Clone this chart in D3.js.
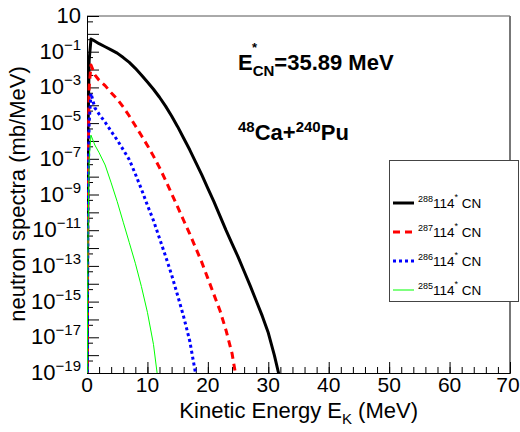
<!DOCTYPE html>
<html><head><meta charset="utf-8">
<script src="https://cdn.jsdelivr.net/npm/d3@7"></script>
<style>
body{margin:0;background:#fff}
text{font-family:"Liberation Sans",Arial,Helvetica,sans-serif;fill:#000}
</style>
</head><body>
<svg id="c" width="520" height="432"></svg>
<script>
// ---- data ----
const xTickValues = [0, 10, 20, 30, 40, 50, 60, 70];
const yLabelExponents = [1, -1, -3, -5, -7, -9, -11, -13, -15, -17, -19];
const massNumbers = ["288", "287", "286", "285"];
const seriesColors = ["#000000", "#ff0000", "#0000ff", "#00ff00"];

const e288 = [0, 0.15, 0.35, 0.66, 1, 2, 3, 4, 5, 6, 7, 8, 9, 10, 11, 12, 13, 14, 15, 16, 17, 18, 19, 20, 21, 22, 23, 24, 25, 26, 27, 28, 29, 30, 31, 31.7, 32];
const v288 = [1e-22, 1e-6, 3.2e-2, 5.1e-1, 4.5e-1, 2.8e-1, 1.9e-1, 1.26e-1, 8.3e-2, 4.7e-2, 2.5e-2, 1.17e-2, 5.0e-3, 2.0e-3, 7.9e-4, 2.8e-4, 8.9e-5, 2.5e-5, 6.3e-6, 1.41e-6, 3.2e-7, 6.3e-8, 1.26e-8, 2.2e-9, 4.0e-10, 6.3e-11, 1.0e-11, 1.78e-12, 3.2e-13, 5.0e-14, 7.9e-15, 1.12e-15, 1.58e-16, 1.78e-17, 1.0e-18, 1.0e-19, 3.2e-20];

const e287 = [0, 0.15, 0.35, 0.66, 1.3, 2, 3, 4, 5, 6, 7, 8, 9, 10, 11, 12, 13, 14, 15, 16, 17, 18, 19, 20, 21, 22, 23, 24, 24.5, 24.8];
const v287 = [1e-22, 1e-8, 1e-3, 1.78e-2, 5.0e-3, 2.5e-3, 1.26e-3, 5.0e-4, 2.2e-4, 7.9e-5, 2.5e-5, 7.1e-6, 2.0e-6, 5.6e-7, 1.41e-7, 3.2e-8, 6.3e-9, 1.12e-9, 2.0e-10, 3.5e-11, 6.3e-12, 1.0e-12, 1.58e-13, 2.0e-14, 2.5e-15, 3.2e-16, 2.5e-17, 1.26e-18, 1.26e-19, 3.2e-20];

const e286 = [0, 0.15, 0.35, 0.66, 1.3, 2, 3, 4, 5, 6, 7, 8, 9, 10, 11, 12, 13, 14, 15, 16, 17, 17.9, 18.2];
const v286 = [1e-22, 1e-10, 1e-5, 4.7e-4, 7.1e-5, 3.2e-5, 1.12e-5, 3.5e-6, 1.12e-6, 3.2e-7, 8.9e-8, 1.41e-8, 2.0e-9, 2.5e-10, 3.5e-11, 3.5e-12, 3.5e-13, 3.2e-14, 2.2e-15, 1.41e-16, 6.3e-18, 1.26e-19, 3.2e-20];

const e285 = [0, 0.15, 0.35, 0.66, 1.3, 2, 3, 4, 5, 6, 7, 8, 9, 10, 11, 11.6, 11.9];
const v285 = [1e-22, 1e-12, 1e-7, 2.1e-6, 5.9e-7, 2.2e-7, 4.5e-8, 4.5e-9, 4.0e-10, 2.8e-11, 2.0e-12, 1.41e-13, 7.1e-15, 2.5e-16, 4.0e-18, 1.0e-19, 3.2e-20];

// ---- layout ----
const L = 87, R = 510, T = 16, B = 373;
const svg = d3.select("#c");
const x = d3.scaleLinear().domain([0, 70]).range([L, R]);
const y = d3.scaleLog().domain([1e-19, 10]).range([B, T]);

svg.append("defs").append("clipPath").attr("id", "clip")
  .append("rect").attr("x", L).attr("y", T).attr("width", R - L).attr("height", B - T);

// frame top/right
svg.append("line").attr("x1", L).attr("x2", R).attr("y1", T).attr("y2", T).attr("stroke", "#555").attr("stroke-width", 1);
svg.append("line").attr("x1", R).attr("x2", R).attr("y1", T).attr("y2", B).attr("stroke", "#777").attr("stroke-width", 2);

// y ticks
const yMajor = d3.range(-19, 2).map(k => Math.pow(10, k));
const yMinor = d3.range(-19, 1).map(k => 5 * Math.pow(10, k));
svg.append("g").attr("transform", `translate(${L},0)`)
  .call(d3.axisLeft(y).tickValues(yMajor).tickSize(-12).tickFormat(""));
const yAxMin = svg.append("g").attr("transform", `translate(${L},0)`)
  .call(d3.axisLeft(y).tickValues(yMinor).tickSize(-6).tickFormat(""));
yAxMin.select(".domain").remove();
// x ticks
const xMinor = d3.range(0, 71, 2);
svg.append("g").attr("transform", `translate(0,${B})`)
  .call(d3.axisBottom(x).tickValues(xTickValues).tickSize(-11).tickFormat(""));
const xAxMin = svg.append("g").attr("transform", `translate(0,${B})`)
  .call(d3.axisBottom(x).tickValues(xMinor).tickSize(-6).tickFormat(""));
xAxMin.select(".domain").remove();
svg.selectAll(".domain").attr("stroke", "#000");
svg.selectAll(".tick line").attr("stroke", "#000").attr("stroke-width", 1);

// x tick labels
svg.append("g").selectAll("text").data(xTickValues).join("text")
  .attr("x", d => x(d) - (d === 70 ? 2 : 0)).attr("y", B + 19).attr("text-anchor", "middle")
  .attr("font-size", 21).text(d => d);

// y tick labels
const yl = svg.append("g");
yLabelExponents.forEach(k => {
  const t = yl.append("text").attr("x", 81).attr("y", y(Math.pow(10, k)) + 7)
    .attr("text-anchor", "end").attr("font-size", 22);
  t.append("tspan").text("10");
  if (k !== 1) {
    t.append("tspan").attr("font-size", 15).attr("dy", -9).text("\u2212" + Math.abs(k));
  }
});

// axis titles
const xt = svg.append("text").attr("x", 418).attr("y", 418).attr("text-anchor", "end").attr("font-size", 22);
xt.append("tspan").text("Kinetic Energy E");
xt.append("tspan").attr("font-size", 15).attr("dy", 6).text("K");
xt.append("tspan").attr("dy", -6).text(" (MeV)");

svg.append("text").attr("transform", "translate(25,194) rotate(-90)")
  .attr("text-anchor", "middle").attr("font-size", 22).text("neutron spectra (mb/MeV)");

// curves
const series = [
  {e: e288, v: v288, w: 3, dash: null},
  {e: e287, v: v287, w: 3, dash: "7,5"},
  {e: e286, v: v286, w: 3, dash: "3,3"},
  {e: e285, v: v285, w: 1, dash: null}
];
const line = d3.line().x(d => x(d[0])).y(d => y(Math.max(d[1], 1e-30)));
const cg = svg.append("g").attr("clip-path", "url(#clip)");
series.forEach((s, i) => {
  cg.append("path").datum(s.e.map((e, j) => [e, s.v[j]]))
    .attr("d", line).attr("fill", "none")
    .attr("stroke", seriesColors[i]).attr("stroke-width", s.w)
    .attr("stroke-dasharray", s.dash).attr("stroke-linejoin", "round");
});

// annotations
const a1 = svg.append("text").attr("x", 238).attr("y", 70).attr("font-size", 22).attr("font-weight", "bold");
a1.append("tspan").text("E");
a1.append("tspan").attr("font-size", 15).attr("dy", 6).text("CN");
a1.append("tspan").attr("dy", -6).text("=35.89 MeV");
svg.append("text").attr("x", 252).attr("y", 52).attr("font-size", 13).attr("font-weight", "bold").text("*");

const a2 = svg.append("text").attr("x", 238).attr("y", 140).attr("font-size", 22).attr("font-weight", "bold");
a2.append("tspan").attr("font-size", 15).attr("dy", -8).text("48");
a2.append("tspan").attr("dy", 8).text("Ca+");
a2.append("tspan").attr("font-size", 15).attr("dy", -8).text("240");
a2.append("tspan").attr("dy", 8).text("Pu");

// legend
const lg = svg.append("g");
lg.append("rect").attr("x", 389.5).attr("y", 160.5).attr("width", 129).attr("height", 141)
  .attr("fill", "#fff").attr("stroke", "#444").attr("stroke-width", 1);
const rowY = [203, 232, 261, 290];
series.forEach((s, i) => {
  lg.append("line").attr("x1", 393).attr("x2", 414).attr("y1", rowY[i]).attr("y2", rowY[i])
    .attr("stroke", seriesColors[i]).attr("stroke-width", s.w).attr("stroke-dasharray", s.dash);
  const t = lg.append("text").attr("x", 418).attr("y", rowY[i] + 5).attr("font-size", 13.5);
  t.append("tspan").attr("font-size", 9).attr("dy", -6).text(massNumbers[i]);
  t.append("tspan").attr("dy", 6).text("114");
  t.append("tspan").attr("font-size", 9).attr("dy", -8).text("*");
  t.append("tspan").attr("dy", 8).text(" CN");
});
</script>
</body></html>
